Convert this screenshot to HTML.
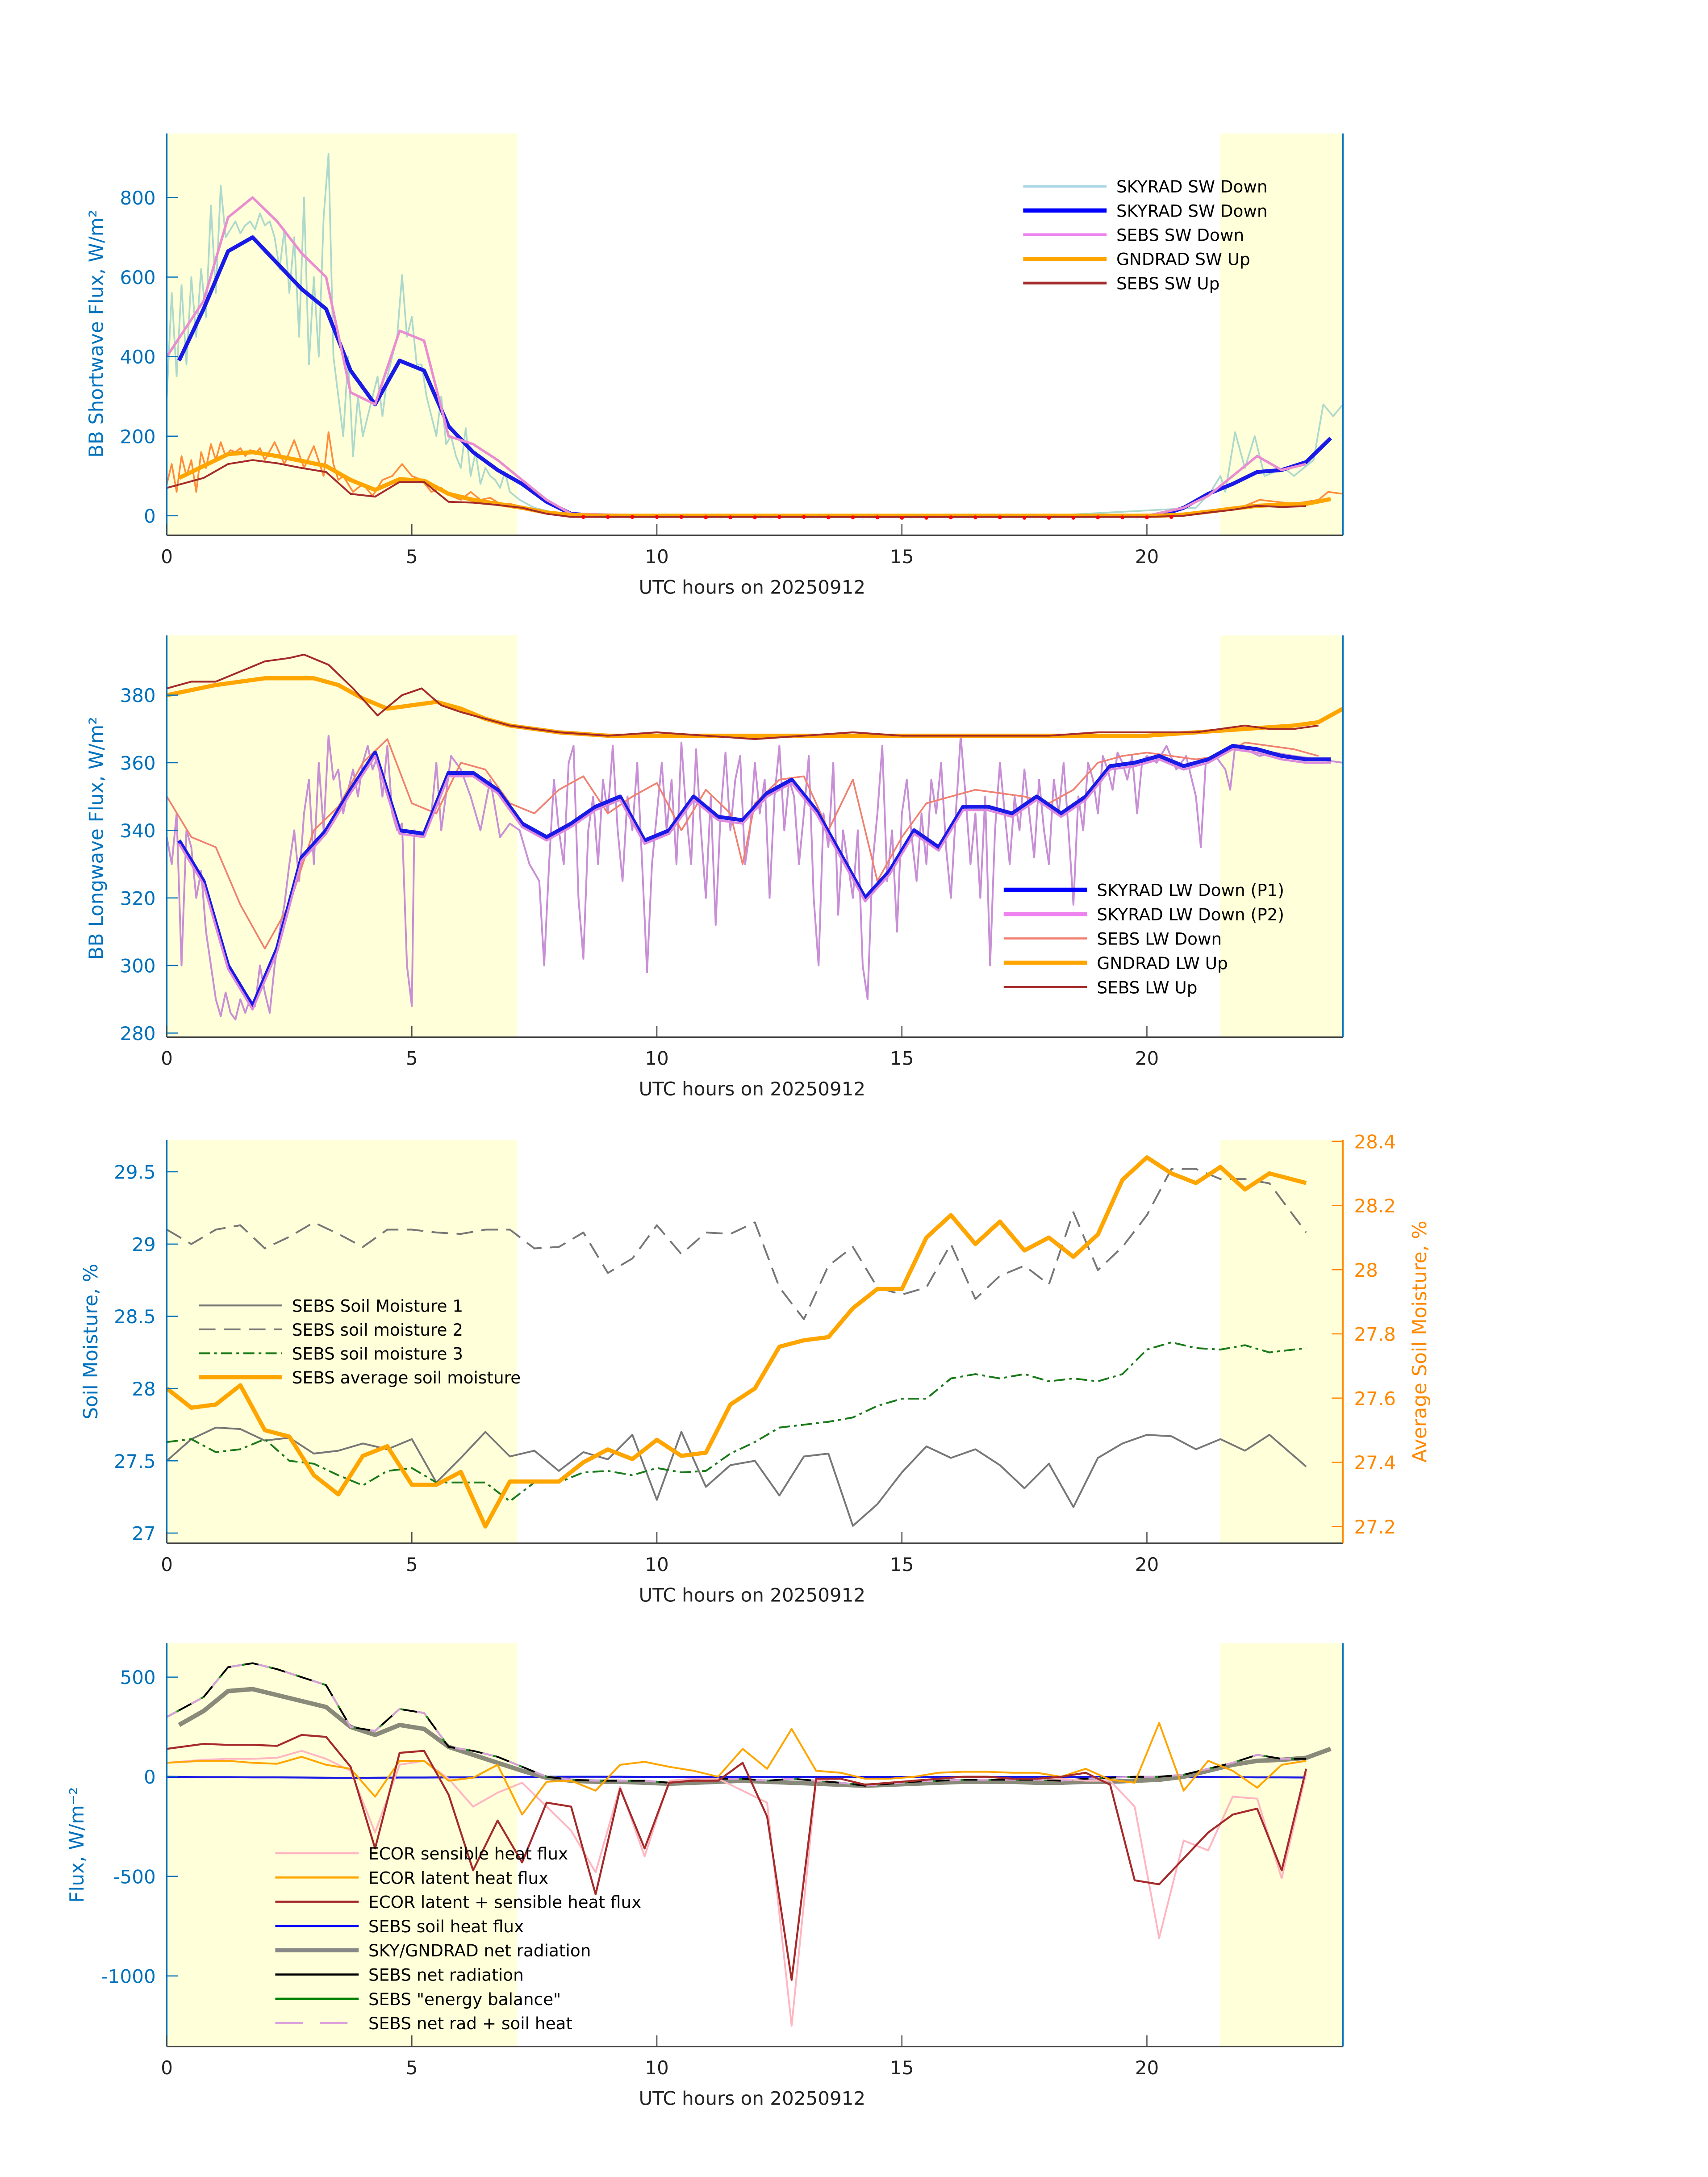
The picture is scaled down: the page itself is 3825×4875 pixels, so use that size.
<!DOCTYPE html>
<html><head><meta charset="utf-8"><style>
html,body{margin:0;padding:0;background:#fff;}
svg{display:block;font-family:"DejaVu Sans","Liberation Sans",sans-serif;}
</style></head><body>
<svg id="fig" width="3825" height="4875" viewBox="0 0 1228.6 1565.9" preserveAspectRatio="none" xmlns="http://www.w3.org/2000/svg"></svg>
<script>
// ---------- Panel 1 data (shortwave) ----------
const swHalfHours = [0.25,0.75,1.25,1.75,2.25,2.75,3.25,3.75,4.25,4.75,5.25,5.75,6.25,6.75,7.25,7.75,8.25,8.75,9.25,9.75,10.25,10.75,11.25,11.75,12.25,12.75,13.25,13.75,14.25,14.75,15.25,15.75,16.25,16.75,17.25,17.75,18.25,18.75,19.25,19.75,20.25,20.75,21.25,21.75,22.25,22.75,23.25,23.75];
const skyradSwDown = [390,520,665,700,635,570,520,365,280,390,365,225,160,115,80,35,5,0,0,0,0,0,0,0,0,0,0,0,0,0,0,0,0,0,0,0,0,0,0,0,0,20,55,80,110,115,135,195];
const sebsSwDownT = [0,0.75,1.25,1.75,2.25,2.75,3.25,3.75,4.25,4.75,5.25,5.75,6.25,6.75,7.25,7.75,8.25,10,15,20,20.75,21.25,21.75,22.25,22.75,23.25];
const sebsSwDown = [400,540,750,800,740,660,600,310,280,465,440,200,180,140,90,40,5,0,-3,0,20,50,100,150,115,130];
const gndradSwUp = [95,125,155,160,150,138,125,90,65,92,88,55,40,30,20,8,2,0,0,0,0,0,0,0,0,0,0,0,0,0,0,0,0,0,0,0,0,0,0,0,0,3,10,18,25,28,30,42];
const sebsSwUpT = [0,0.75,1.25,1.75,2.25,2.75,3.25,3.75,4.25,4.75,5.25,5.75,6.25,6.75,7.25,7.75,8.25,20,20.75,21.25,21.75,22.25,22.75,23.25];
const sebsSwUp = [70,95,130,140,132,120,110,55,48,85,85,35,33,27,20,5,-3,-3,0,8,15,25,22,24];
const sebsSwDotT = [8.5,9,9.5,10,10.5,11,11.5,12,12.5,13,13.5,14,14.5,15,15.5,16,16.5,17,17.5,18,18.5,19,19.5,20,20.5];
const sebsSwDot = [-3,-3,-3,-3,-3,-4,-4,-4,-3,-3,-4,-4,-4,-5,-5,-4,-4,-4,-5,-5,-5,-4,-4,-4,-3];
const skyNoisyT = [0,0.1,0.2,0.3,0.4,0.5,0.6,0.7,0.8,0.9,1.0,1.1,1.2,1.3,1.4,1.5,1.6,1.7,1.8,1.9,2.0,2.1,2.2,2.3,2.4,2.5,2.6,2.7,2.8,2.9,3.0,3.1,3.2,3.3,3.4,3.5,3.6,3.7,3.8,3.9,4.0,4.1,4.2,4.3,4.4,4.5,4.6,4.7,4.8,4.9,5.0,5.1,5.2,5.3,5.4,5.5,5.6,5.7,5.8,5.9,6.0,6.1,6.2,6.3,6.4,6.5,6.6,6.7,6.8,6.9,7.0,7.2,7.5,8.0,8.5,12,18,21.0,21.3,21.5,21.6,21.8,22.0,22.2,22.4,22.6,22.8,23.0,23.2,23.4,23.6,23.8,24.0];
const skyNoisy = [300,560,350,580,380,600,450,620,500,780,560,830,700,720,740,710,730,740,720,760,730,740,700,620,720,560,700,450,800,380,600,400,750,910,400,300,200,400,150,300,200,250,300,350,250,350,400,450,605,450,500,380,380,300,250,200,300,180,200,150,120,220,100,160,80,120,100,90,70,110,60,40,20,5,0,0,0,20,60,100,60,210,120,200,100,110,120,100,120,140,280,250,280];
const gndNoisyT = [0,0.1,0.2,0.3,0.4,0.5,0.6,0.7,0.8,0.9,1.0,1.1,1.2,1.3,1.4,1.5,1.6,1.7,1.8,1.9,2.0,2.2,2.4,2.6,2.8,3.0,3.2,3.3,3.4,3.5,3.6,3.8,4.0,4.2,4.4,4.6,4.8,5.0,5.2,5.4,5.6,5.8,6.0,6.2,6.4,6.6,6.8,7.0,7.5,8,8.5,12,18,21,22,22.3,23,23.5,23.7,24];
const gndNoisy = [80,130,60,150,100,140,60,160,120,180,140,185,150,165,160,170,150,165,155,170,140,185,130,190,120,175,100,210,130,90,100,60,80,50,90,100,130,100,90,60,70,50,40,60,40,45,30,30,15,5,0,0,0,5,25,40,30,40,60,55];
const swTicks = [0,200,400,600,800];

// ---------- Panel 2 data (longwave) ----------
const lwHalfHours = swHalfHours;
const skyradLwP1 = [337,325,300,288,305,332,340,352,363,340,339,357,357,352,342,338,342,347,350,337,340,350,344,343,351,355,346,333,320,328,340,335,347,347,345,350,345,350,359,360,362,359,361,365,364,362,361,361];
const skyradLwP2 = [336,324,299,287,304,331,339,351,362,339,338,356,356,351,341,337,341,346,349,336,339,349,343,342,350,354,345,332,319,327,339,334,346,346,344,349,344,349,358,359,361,358,360,364,363,361,360,360];
const sebsLwDownT = [0,0.5,1,1.5,2,2.5,3,3.5,4,4.5,5,5.5,6,6.5,7,7.5,8,8.5,9,9.5,10,10.5,11,11.5,11.75,12,12.5,13,13.5,14,14.5,15,15.5,16,16.5,17,17.5,18,18.5,19,19.5,20,20.5,21,21.5,22,22.5,23,23.5];
const sebsLwDown = [350,338,335,318,305,318,340,347,360,367,348,345,360,358,348,345,352,356,345,350,354,340,352,345,330,348,355,356,340,355,325,338,348,350,352,351,350,348,352,360,362,363,362,361,362,366,365,364,362];
const gndLwUpT = [0,1,2,3,3.5,4,4.5,5,5.5,6,6.5,7,8,9,10,11,12,13,14,15,16,17,18,19,20,21,22,23,23.5,24];
const gndLwUp = [380,383,385,385,383,379,376,377,378,376,373,371,369,368,368,368,368,368,368,368,368,368,368,368,368,369,370,371,372,376];
const sebsLwUpT = [0,0.5,1,1.5,2,2.5,2.8,3.3,3.8,4.3,4.8,5.2,5.6,6,6.5,7,8,9,10,11,12,13,14,15,16,17,18,19,20,21,22,22.5,23,23.5];
const sebsLwUp = [382,384,384,387,390,391,392,389,382,374,380,382,377,375,373,371,369,368,369,368,367,368,369,368,368,368,368,369,369,369,371,370,370,371];
const lwNoisyT = [0,0.1,0.2,0.3,0.4,0.5,0.6,0.7,0.8,0.9,1.0,1.1,1.2,1.3,1.4,1.5,1.6,1.7,1.8,1.9,2.0,2.1,2.2,2.3,2.4,2.5,2.6,2.7,2.8,2.9,3.0,3.1,3.2,3.3,3.4,3.5,3.6,3.7,3.8,3.9,4.0,4.1,4.2,4.3,4.4,4.5,4.6,4.7,4.8,4.9,5.0,5.05,5.2,5.4,5.5,5.6,5.8,6.0,6.2,6.4,6.6,6.8,7.0,7.2,7.4,7.6,7.7,7.8,7.9,8.0,8.1,8.2,8.3,8.4,8.5,8.6,8.7,8.8,8.9,9.0,9.1,9.2,9.3,9.4,9.5,9.6,9.7,9.8,9.9,10.0,10.1,10.2,10.3,10.4,10.5,10.6,10.7,10.8,10.9,11.0,11.1,11.2,11.3,11.4,11.5,11.6,11.7,11.8,11.9,12.0,12.1,12.2,12.3,12.4,12.5,12.6,12.7,12.8,12.9,13.0,13.1,13.2,13.3,13.4,13.5,13.6,13.7,13.8,13.9,14.0,14.1,14.2,14.3,14.4,14.5,14.6,14.7,14.8,14.9,15.0,15.1,15.2,15.3,15.4,15.5,15.6,15.7,15.8,15.9,16.0,16.1,16.2,16.3,16.4,16.5,16.6,16.7,16.8,16.9,17.0,17.1,17.2,17.3,17.4,17.5,17.6,17.7,17.8,17.9,18.0,18.1,18.2,18.3,18.4,18.5,18.6,18.7,18.8,18.9,19.0,19.1,19.2,19.3,19.4,19.5,19.6,19.7,19.8,19.9,20.0,20.2,20.4,20.6,20.8,21.0,21.1,21.2,21.4,21.6,21.7,21.8,22.0,22.3,22.6,23.0,23.5,24];
const lwNoisy = [338,330,345,300,340,335,320,328,310,300,290,285,292,286,284,290,286,290,288,300,292,286,300,310,318,330,340,325,345,355,330,360,340,368,355,358,345,352,358,350,360,365,358,362,350,365,345,340,342,300,288,340,338,345,360,340,362,358,350,340,355,338,342,340,330,325,300,330,355,340,330,360,365,320,302,340,350,330,355,345,365,340,325,350,340,360,330,298,330,345,360,340,355,330,366,345,330,364,340,320,350,312,345,363,340,355,362,330,340,360,345,355,320,350,365,340,355,350,330,345,362,320,300,345,335,360,315,340,330,320,340,300,290,330,345,365,325,340,310,345,355,338,325,345,330,355,345,360,335,320,345,368,350,330,345,320,350,300,340,360,345,330,350,340,358,345,332,355,340,330,355,345,360,340,318,350,340,360,355,345,362,358,352,363,360,355,362,345,360,362,360,365,358,362,350,335,360,362,358,352,365,364,362,363,362,361,360];
const lwTicks = [280,300,320,340,360,380];

// ---------- Panel 3 data (soil moisture) ----------
const smTimes = [0,0.5,1,1.5,2,2.5,3,3.5,4,4.5,5,5.5,6,6.5,7,7.5,8,8.5,9,9.5,10,10.5,11,11.5,12,12.5,13,13.5,14,14.5,15,15.5,16,16.5,17,17.5,18,18.5,19,19.5,20,20.5,21,21.5,22,22.5,23.25];
const soilMoisture1 = [27.5,27.65,27.73,27.72,27.64,27.66,27.55,27.57,27.62,27.58,27.65,27.35,27.52,27.7,27.53,27.57,27.43,27.56,27.51,27.68,27.23,27.7,27.32,27.47,27.5,27.26,27.53,27.55,27.05,27.2,27.42,27.6,27.52,27.58,27.47,27.31,27.48,27.18,27.52,27.62,27.68,27.67,27.58,27.65,27.57,27.68,27.46];
const soilMoisture2 = [29.1,29.0,29.1,29.13,28.97,29.05,29.15,29.07,28.98,29.1,29.1,29.08,29.07,29.1,29.1,28.97,28.98,29.08,28.8,28.9,29.13,28.93,29.08,29.07,29.15,28.7,28.48,28.85,28.98,28.7,28.65,28.7,29.0,28.62,28.78,28.85,28.72,29.22,28.82,28.98,29.2,29.52,29.52,29.45,29.45,29.42,29.08];
const soilMoisture3 = [27.63,27.65,27.56,27.58,27.65,27.5,27.48,27.4,27.33,27.43,27.45,27.35,27.35,27.35,27.22,27.35,27.35,27.42,27.43,27.4,27.45,27.42,27.43,27.55,27.63,27.73,27.75,27.77,27.8,27.88,27.93,27.93,28.07,28.1,28.07,28.1,28.05,28.07,28.05,28.1,28.27,28.32,28.28,28.27,28.3,28.25,28.28];
const avgSoilMoisture = [27.63,27.57,27.58,27.64,27.5,27.48,27.36,27.3,27.42,27.45,27.33,27.33,27.37,27.2,27.34,27.34,27.34,27.4,27.44,27.41,27.47,27.42,27.43,27.58,27.63,27.76,27.78,27.79,27.88,27.94,27.94,28.1,28.17,28.08,28.15,28.06,28.1,28.04,28.11,28.28,28.35,28.3,28.27,28.32,28.25,28.3,28.27];
const smLeftTicks = [27,27.5,28,28.5,29,29.5];
const smRightTicks = [27.2,27.4,27.6,27.8,28,28.2,28.4];

// ---------- Panel 4 data (fluxes) ----------
const fxTimes = [0,0.75,1.25,1.75,2.25,2.75,3.25,3.75,4.25,4.75,5.25,5.75,6.25,6.75,7.25,7.75,8.25,8.75,9.25,9.75,10.25,10.75,11.25,11.75,12.25,12.75,13.25,13.75,14.25,14.75,15.25,15.75,16.25,16.75,17.25,17.75,18.25,18.75,19.25,19.75,20.25,20.75,21.25,21.75,22.25,22.75,23.25];
const ecorSensible = [70,85,90,90,95,130,90,30,-280,60,80,-10,-150,-80,-30,-150,-270,-480,-50,-400,-20,-10,-10,-70,-130,-1250,-20,-10,-40,-30,-20,-10,0,0,-10,-10,-10,-20,-20,-150,-810,-320,-370,-100,-110,-510,20];
const ecorLatent = [70,80,80,70,65,100,60,40,-100,80,80,-20,-5,60,-190,-25,-20,-70,60,75,50,30,0,140,40,240,30,20,-10,-10,0,20,25,25,20,20,0,40,-15,-30,270,-70,80,30,-55,60,80];
const ecorTotal = [140,165,160,160,155,210,200,50,-360,120,130,-90,-470,-220,-430,-130,-150,-590,-60,-360,-30,-20,-20,70,-200,-1020,-10,-10,-40,-30,-20,-10,0,0,-10,-10,0,20,-40,-520,-540,-410,-280,-190,-160,-470,40];
const sebsSoilHeat = [0,-2,-2,-3,-3,-4,-5,-6,-5,-4,-4,-3,-3,-2,-1,0,0,0,0,-1,-1,-1,-1,-1,-1,-1,-1,-1,-1,-1,-1,-1,-1,-1,-1,-1,-1,-1,-1,-1,-1,-1,-1,-2,-3,-3,-4];
const netRadT = [0.25,0.75,1.25,1.75,2.25,2.75,3.25,3.75,4.25,4.75,5.25,5.75,6.25,6.75,7.25,7.75,8.25,8.75,9.25,9.75,10.25,10.75,11.25,11.75,12.25,12.75,13.25,13.75,14.25,14.75,15.25,15.75,16.25,16.75,17.25,17.75,18.25,18.75,19.25,19.75,20.25,20.75,21.25,21.75,22.25,22.75,23.25,23.75];
const skyGndNet = [260,330,430,440,410,380,350,250,210,260,240,150,110,70,30,-5,-20,-25,-25,-30,-35,-30,-25,-20,-25,-30,-35,-40,-45,-40,-35,-30,-25,-25,-25,-30,-30,-25,-25,-20,-15,0,30,60,80,85,95,140];
const sebsNetT = [0,0.75,1.25,1.75,2.25,2.75,3.25,3.75,4.25,4.75,5.25,5.75,6.25,6.75,7.25,7.75,8.25,8.75,9.25,9.75,10.25,10.75,11.25,11.75,12.25,12.75,13.25,13.75,14.25,14.75,15.25,15.75,16.25,16.75,17.25,17.75,18.25,18.75,19.25,19.75,20.25,20.75,21.25,21.75,22.25,22.75,23.25];
const sebsNet = [300,400,550,570,540,500,460,250,230,340,320,150,130,100,50,0,-15,-20,-20,-20,-30,-15,-10,-10,-20,-10,-20,-30,-45,-35,-25,-20,-15,-15,-15,-15,-20,-10,-5,0,0,10,40,70,110,90,90];
const ticksFlux = [-1000,-500,0,500];
const hourTicks = [0,5,10,15,20];
const shadeSpans = [[0,7.15],[21.5,24]];

// ---------- helpers ----------
const NS = "http://www.w3.org/2000/svg";
const svg = document.getElementById('fig');
const X0 = 120, X1 = 966, TMAX = 24;
function sx(t){ return X0 + t / TMAX * (X1 - X0); }
function mkY(p){ return v => p.bot - (v - p.min) / (p.max - p.min) * (p.bot - p.top); }
function el(tag, attrs, parent){
  const e = document.createElementNS(NS, tag);
  for (const k in attrs) e.setAttribute(k, attrs[k]);
  (parent || svg).appendChild(e);
  return e;
}
function txt(parent, x, y, s, size, fill, anchor, name){
  const e = el('text', {x:x, y:y, 'font-size':size, fill:fill, 'text-anchor':anchor||'start'}, parent);
  e.textContent = s;
  
  
  return e;
}
function series(parent, ts, vs, sy, stroke, width, name, dash){
  let d = '';
  for (let i = 0; i < ts.length; i++) d += (i ? 'L' : 'M') + sx(ts[i]).toFixed(2) + ',' + sy(vs[i]).toFixed(2);
  const p = el('path', {d:d, fill:'none', stroke:stroke, 'stroke-width':width, 'stroke-linejoin':'round'}, parent);
  if (dash) p.setAttribute('stroke-dasharray', dash);
  
  
  return p;
}
function dots(parent, ts, vs, sy, fill, name){
  const g = el('g', {fill:fill}, parent);
  
  
  for (let i = 0; i < ts.length; i++){
    const c = el('circle', {cx:sx(ts[i]), cy:sy(vs[i]), r:1.4}, g);
    
    
  }
}
let clipN = 0;
function panel(p, name){
  const g = el('g', {});
  
  
  const id = 'clip' + (clipN++);
  const cp = el('clipPath', {id:id}, g);
  el('rect', {x:X0, y:p.top, width:X1-X0, height:p.bot-p.top}, cp);
  for (const s of shadeSpans){
    const r = el('rect', {x:sx(s[0]), y:p.top, width:sx(s[1])-sx(s[0]), height:p.bot-p.top, fill:'#ffffd9'}, g);
    
    
  }
  const plot = el('g', {'clip-path':'url(#'+id+')'}, g);
  
  
  const xa = el('line', {x1:X0, y1:p.bot, x2:X1, y2:p.bot, stroke:'#444', 'stroke-width':1}, g);
  
  
  const ya = el('line', {x1:X0, y1:p.top, x2:X0, y2:p.bot, stroke:'#0072bd', 'stroke-width':1}, g);
  
  
  const ra = el('line', {x1:X1, y1:p.top, x2:X1, y2:p.bot, stroke: p.rightColor || '#0072bd', 'stroke-width':1}, g);
  
  
  for (const h of hourTicks){
    el('line', {x1:sx(h), y1:p.bot, x2:sx(h), y2:p.bot-8, stroke:'#444', 'stroke-width':0.8}, g);
    txt(g, sx(h), p.bot + 20, String(h), 13.5, '#222', 'middle', 'x-tick-label');
  }
  txt(g, (X0+X1)/2 - 2, p.bot + 42, 'UTC hours on 20250912', 13.5, '#222', 'middle', 'x-axis-title');
  const sy = mkY(p);
  for (const v of p.ticks){
    el('line', {x1:X0, y1:sy(v), x2:X0+8, y2:sy(v), stroke:'#0072bd', 'stroke-width':0.8}, g);
    txt(g, X0 - 8, sy(v) + 5, String(v), 13.5, '#0072bd', 'end', 'y-tick-label');
  }
  return {g:g, plot:plot, sy:sy};
}
function ylabel(g, x, y, s, color, name){
  const t = txt(g, 0, 0, s, 14, color, 'middle', name);
  t.setAttribute('transform', 'translate(' + x + ',' + y + ') rotate(-90)');
  return t;
}
function legend(g, x, y0, dy, items){
  const lg = el('g', {}, g);
  
  
  items.forEach((it, i) => {
    const y = y0 + i * dy;
    const ln = el('line', {x1:x, y1:y, x2:x+60, y2:y, stroke:it[1], 'stroke-width':it[2]}, lg);
    if (it[3]) ln.setAttribute('stroke-dasharray', it[3]);
    
    
    txt(lg, x + 67, y + 4.5, it[0], 12, '#000', 'start', 'legend-entry');
  });
}

// ---------- Panel 1 ----------
const p1 = {top:96, bot:385, min:-49, max:961, ticks:swTicks};
const P1 = panel(p1, 'shortwave-panel');
series(P1.plot, skyNoisyT, skyNoisy, P1.sy, '#acd9cc', 1.2, 'skyrad-sw-down-1min');
series(P1.plot, gndNoisyT, gndNoisy, P1.sy, '#ff8c3a', 1.2, 'gndrad-sw-up-1min');
series(P1.plot, swHalfHours, skyradSwDown, P1.sy, '#1a1ae6', 2.8, 'skyrad-sw-down');
series(P1.plot, sebsSwDownT, sebsSwDown, P1.sy, '#ea8cd0', 1.8, 'sebs-sw-down');
series(P1.plot, swHalfHours, gndradSwUp, P1.sy, '#ffa500', 3, 'gndrad-sw-up');
series(P1.plot, sebsSwUpT, sebsSwUp, P1.sy, '#a52a2a', 1.3, 'sebs-sw-up');
dots(P1.plot, sebsSwDotT, sebsSwDot, P1.sy, '#ff0000', 'sebs-sw-up-markers');
ylabel(P1.g, 74, 240, 'BB Shortwave Flux, W/m²', '#0072bd', 'y-axis-title');
legend(P1.g, 736, 134, 17.4, [['SKYRAD SW Down','#add8e6',2],['SKYRAD SW Down','#0000ff',3],['SEBS SW Down','#ee82ee',2],['GNDRAD SW Up','#ffa500',3],['SEBS SW Up','#a52a2a',2]]);

// ---------- Panel 2 ----------
const p2 = {top:457, bot:746, min:278.8, max:397.7, ticks:lwTicks};
const P2 = panel(p2, 'longwave-panel');
series(P2.plot, lwNoisyT, lwNoisy, P2.sy, '#c88fd6', 1.3, 'skyrad-lw-down-p2-1min');
series(P2.plot, sebsLwDownT, sebsLwDown, P2.sy, '#f08070', 1.2, 'sebs-lw-down');
series(P2.plot, lwHalfHours, skyradLwP1, P2.sy, '#1a1ae6', 2.8, 'skyrad-lw-down-p1');
series(P2.plot, lwHalfHours, skyradLwP2, P2.sy, '#dd88dd', 1.6, 'skyrad-lw-down-p2');
series(P2.plot, gndLwUpT, gndLwUp, P2.sy, '#ffa500', 3, 'gndrad-lw-up');
series(P2.plot, sebsLwUpT, sebsLwUp, P2.sy, '#a52a2a', 1.3, 'sebs-lw-up');
ylabel(P2.g, 74, 603, 'BB Longwave Flux, W/m²', '#0072bd', 'y-axis-title');
legend(P2.g, 722, 640, 17.5, [['SKYRAD LW Down (P1)','#0000ff',3],['SKYRAD LW Down (P2)','#ee82ee',3],['SEBS LW Down','#f08070',1.5],['GNDRAD LW Up','#ffa500',3],['SEBS LW Up','#a52a2a',1.5]]);

// ---------- Panel 3 ----------
const p3 = {top:820, bot:1110, min:26.93, max:29.72, ticks:smLeftTicks, rightColor:'#ff8800'};
const P3 = panel(p3, 'soil-moisture-panel');
const p3r = {top:820, bot:1110, min:27.148, max:28.404};
const syR = mkY(p3r);
for (const v of smRightTicks){
  el('line', {x1:X1-8, y1:syR(v), x2:X1, y2:syR(v), stroke:'#ff8800', 'stroke-width':0.8}, P3.g);
  txt(P3.g, X1 + 8, syR(v) + 5, String(v), 13.5, '#ff8800', 'start', 'right-y-tick-label');
}
series(P3.plot, smTimes, soilMoisture1, P3.sy, '#777', 1.3, 'sebs-soil-moisture-1');
series(P3.plot, smTimes, soilMoisture2, P3.sy, '#777', 1.3, 'sebs-soil-moisture-2', '12,6');
series(P3.plot, smTimes, soilMoisture3, P3.sy, '#1a7a1a', 1.3, 'sebs-soil-moisture-3', '8,3,2,3');
series(P3.plot, smTimes, avgSoilMoisture, syR, '#ffa500', 3, 'sebs-average-soil-moisture');
ylabel(P3.g, 70, 965, 'Soil Moisture, %', '#0072bd', 'y-axis-title');
ylabel(P3.g, 1026, 965, 'Average Soil Moisture, %', '#ff8800', 'right-y-axis-title');
legend(P3.g, 143, 939, 17.2, [['SEBS Soil Moisture 1','#777',1.3],['SEBS soil moisture 2','#777',1.3,'12,6'],['SEBS soil moisture 3','#1a7a1a',1.3,'8,3,2,3'],['SEBS average soil moisture','#ffa500',3]]);

// ---------- Panel 4 ----------
const p4 = {top:1182, bot:1472, min:-1354, max:670, ticks:ticksFlux};
const P4 = panel(p4, 'flux-panel');
series(P4.plot, fxTimes, sebsSoilHeat, P4.sy, '#1a1ae6', 1.4, 'sebs-soil-heat-flux');
series(P4.plot, netRadT, skyGndNet, P4.sy, '#8a8a7a', 3.2, 'sky-gndrad-net-radiation');
series(P4.plot, sebsNetT, sebsNet, P4.sy, '#000', 1.3, 'sebs-net-radiation');
series(P4.plot, sebsNetT, sebsNet, P4.sy, '#1a8a1a', 1.4, 'sebs-energy-balance', '10,10');
series(P4.plot, sebsNetT, sebsNet, P4.sy, '#d8a0d8', 1.4, 'sebs-net-rad-plus-soil-heat', '8,12');
series(P4.plot, fxTimes, ecorSensible, P4.sy, '#ffb6c1', 1.3, 'ecor-sensible-heat-flux');
series(P4.plot, fxTimes, ecorLatent, P4.sy, '#ffa500', 1.3, 'ecor-latent-heat-flux');
series(P4.plot, fxTimes, ecorTotal, P4.sy, '#a52a2a', 1.4, 'ecor-latent-plus-sensible');
ylabel(P4.g, 60, 1327, 'Flux, W/m⁻²', '#0072bd', 'y-axis-title');
legend(P4.g, 198, 1333, 17.45, [['ECOR sensible heat flux','#ffb6c1',1.5],['ECOR latent heat flux','#ffa500',1.5],['ECOR latent + sensible heat flux','#a52a2a',1.5],['SEBS soil heat flux','#0000ff',1.5],['SKY/GNDRAD net radiation','#888',3],['SEBS net radiation','#000',1.5],['SEBS "energy balance"','#008000',1.5],['SEBS net rad + soil heat','#dda0dd',1.5,'20,12']]);
</script>
</body></html>
